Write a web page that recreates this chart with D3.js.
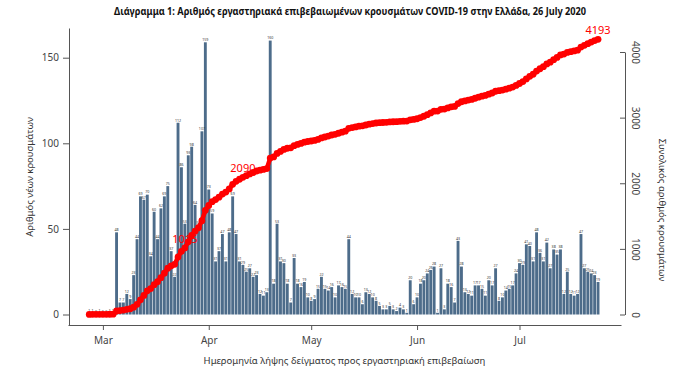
<!DOCTYPE html>
<html>
<head>
<meta charset="utf-8">
<script src="https://cdn.jsdelivr.net/npm/d3@7/dist/d3.min.js"></script>
<style>
  body { margin: 0; background: #ffffff; }
  svg text { font-family: "Noto Sans", "Open Sans", sans-serif; }
</style>
</head>
<body>
<div id="my_dataviz"></div>
<script>
// Daily lab-confirmed cases by sampling date, one value per day from 26 Feb 2020
const start_date = "2020-02-26";
const feb_cases = [1, 1, 0, 1];
const mar_cases = [0, 0, 1, 1, 48, 7, 7, 12, 9, 23, 44, 69, 67, 70, 34, 60, 44, 62, 69, 75,
                   37, 22, 112, 86, 53, 93, 98, 64, 52, 107, 159];
const apr_cases = [73, 59, 31, 37, 47, 31, 48, 69, 47, 31, 29, 25, 27, 22, 23, 12, 11, 13, 160, 18,
                   53, 31, 30, 18, 7, 33, 18, 16, 19, 10];
const may_cases = [8, 9, 15, 22, 15, 14, 16, 10, 17, 16, 15, 44, 12, 10, 10, 6, 13, 12, 10, 8,
                   5, 3, 3, 5, 3, 2, 4, 3, 1, 20, 6];
const jun_cases = [10, 18, 20, 24, 26, 28, 1, 27, 3, 18, 16, 7, 43, 28, 13, 12, 11, 17, 17, 15,
                   11, 20, 17, 27, 8, 10, 14, 15, 17, 24];
const jul_cases = [30, 29, 41, 40, 31, 48, 36, 31, 42, 27, 38, 35, 38, 12, 25, 12, 11, 12, 47, 27,
                   25, 24, 23, 19];

// Axis ticks and labels
const month_ticks = ["2020-03-01", "2020-04-01", "2020-05-01", "2020-06-01", "2020-07-01"];
const month_labels = ["Mar", "Apr", "May", "Jun", "Jul"];
const new_case_ticks = [0, 50, 100, 150];
const total_case_ticks = [0, 1000, 2000, 3000, 4000];

// Days whose running total is written on the line
const labelled_dates = ["2020-03-25", "2020-04-11", "2020-07-24"];

const title_text = "Διάγραμμα 1: Αριθμός εργαστηριακά επιβεβαιωμένων κρουσμάτων COVID-19 στην Ελλάδα, 26 July 2020";
const left_title = "Αριθμός νέων κρουσμάτων";
const right_title = "Συνολικός αριθμός κρουσμάτων";
const x_title = "Ημερομηνία λήψης δείγματος προς εργαστηριακή επιβεβαίωση";


// ---------------------------  build the table  ---------------------------
const parse_day = d3.utcParse("%Y-%m-%d");
const day_cases = [].concat(feb_cases, mar_cases, apr_cases, may_cases, jun_cases, jul_cases);

let running = 0;
const rows = day_cases.map(function(v, i) {
    running += v;
    return { date: d3.utcDay.offset(parse_day(start_date), i), value: v, total: running };
});


// ---------------------------  scales  ---------------------------
const width = 680, height = 376;
const plot = { left: 68, right: 621, top: 28, bottom: 325 };

// month ticks sit at fixed places, the plot region reaches a bit past them
const x_scale = d3.scaleUtc()
    .domain([parse_day("2020-03-01"), parse_day("2020-07-01")])
    .range([102.9, 519.5]);
x_scale.domain([x_scale.invert(plot.left), x_scale.invert(plot.right)]).range([plot.left, plot.right]);

const y_left = d3.scaleLinear().domain([0, 150]).range([314.5, 57.7]);
y_left.domain([y_left.invert(plot.bottom), y_left.invert(plot.top)]).range([plot.bottom, plot.top]);

const y_right = d3.scaleLinear().domain([0, 4000]).range([314.5, 52]);

const day_width = x_scale(parse_day("2020-03-02")) - x_scale(parse_day("2020-03-01"));
const bar_width = day_width * 0.84;


// ---------------------------  draw  ---------------------------
const svg = d3.select("#my_dataviz")
    .append("svg")
    .attr("width", width)
    .attr("height", height);

svg.append("rect").attr("width", width).attr("height", height).attr("fill", "#ffffff");

// bars of new cases
svg.append("g")
    .selectAll("rect")
    .data(rows)
    .join("rect")
    .attr("x", d => x_scale(d.date) - bar_width / 2)
    .attr("y", d => y_left(d.value))
    .attr("width", bar_width)
    .attr("height", d => y_left(0) - y_left(d.value))
    .attr("fill", "#4d6c8a");

// tiny value labels over each bar
svg.append("g")
    .selectAll("text")
    .data(rows)
    .join("text")
    .attr("x", d => x_scale(d.date))
    .attr("y", d => y_left(d.value) - 1.2)
    .attr("text-anchor", "middle")
    .style("font-size", "3.6px")
    .attr("fill", "#333")
    .text(d => d.value);

// running total, drawn as a thick line of red dots
const total_line = d3.line()
    .x(d => x_scale(d.date))
    .y(d => y_right(d.total));

svg.append("path")
    .datum(rows)
    .attr("d", total_line)
    .attr("fill", "none")
    .attr("stroke", "#ff0000")
    .attr("stroke-width", 4.5);

svg.append("g")
    .selectAll("circle")
    .data(rows)
    .join("circle")
    .attr("cx", d => x_scale(d.date))
    .attr("cy", d => y_right(d.total))
    .attr("r", 3.4)
    .attr("fill", "#ff0000");

// totals written on the line
const labelled = rows.filter(d => labelled_dates.includes(d3.utcFormat("%Y-%m-%d")(d.date)));
svg.append("g")
    .selectAll("text")
    .data(labelled)
    .join("text")
    .attr("x", d => x_scale(d.date))
    .attr("y", d => y_right(d.total) - 5)
    .attr("text-anchor", "middle")
    .style("font-size", "11px")
    .attr("fill", "#ff0000")
    .text(d => d.total);


// ---------------------------  axes  ---------------------------
const axis_colour = "#555";
const label_colour = "#444";

// left axis
svg.append("g")
    .attr("transform", `translate(69,0)`)
    .call(d3.axisLeft(y_left).tickValues(new_case_ticks).tickSize(6).tickSizeOuter(0).tickPadding(4));

// right axis, ticks point inwards and labels are turned
const right_axis = svg.append("g")
    .attr("transform", `translate(625,0)`)
    .call(d3.axisRight(y_right).tickValues(total_case_ticks).tickFormat(d3.format("d"))
        .tickSize(-5).tickSizeOuter(0));
right_axis.selectAll(".tick text")
    .attr("x", null)
    .attr("dy", null)
    .attr("text-anchor", "middle")
    .attr("transform", "translate(7,0) rotate(90)");

// bottom axis
svg.append("g")
    .attr("transform", `translate(0,${plot.bottom})`)
    .call(d3.axisBottom(x_scale)
        .tickValues(month_ticks.map(parse_day))
        .tickFormat((d, i) => month_labels[i])
        .tickSize(5).tickSizeOuter(0).tickPadding(7));

svg.selectAll(".domain, .tick line").attr("stroke", axis_colour);
svg.selectAll(".tick text").attr("fill", label_colour).style("font-size", "10px");


// ---------------------------  titles  ---------------------------
svg.append("text")
    .attr("x", 350)
    .attr("y", 15)
    .attr("text-anchor", "middle")
    .attr("textLength", 472)
    .attr("lengthAdjust", "spacingAndGlyphs")
    .style("font-size", "11px")
    .style("font-weight", "bold")
    .attr("fill", "#111")
    .text(title_text);

svg.append("text")
    .attr("transform", "translate(33,177) rotate(-90)")
    .attr("text-anchor", "middle")
    .style("font-size", "9.5px")
    .attr("fill", "#333")
    .text(left_title);

svg.append("text")
    .attr("transform", "translate(659,210) rotate(90)")
    .attr("text-anchor", "middle")
    .style("font-size", "9.5px")
    .attr("fill", "#333")
    .text(right_title);

svg.append("text")
    .attr("x", (plot.left + plot.right) / 2)
    .attr("y", 364)
    .attr("text-anchor", "middle")
    .style("font-size", "9.5px")
    .attr("fill", "#333")
    .text(x_title);
</script>
</body>
</html>
